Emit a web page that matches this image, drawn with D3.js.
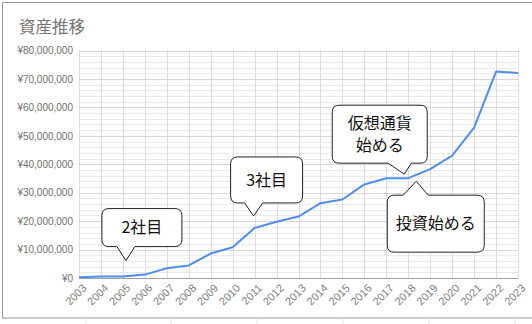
<!DOCTYPE html>
<html>
<head>
<meta charset="utf-8">
<script src="https://cdn.jsdelivr.net/npm/d3@7"></script>
<style>
  body { margin: 0; background: #fff; }
  svg { display: block; }
</style>
</head>
<body>
<svg width="532" height="324"></svg>
<script>
// values in yen
const years = ["2003","2004","2005","2006","2007","2008","2009","2010","2011","2012","2013",
  "2014","2015","2016","2017","2018","2019","2020","2021","2022","2023"];
const assets = [300000, 500000, 500000, 1200000, 3400000, 4400000, 8600000, 10800000, 17600000,
  19800000, 21600000, 26300000, 27600000, 32900000, 35100000, 35100000, 38300000, 43000000,
  52900000, 72600000, 72100000];
const yTicks = [0, 10000000, 20000000, 30000000, 40000000, 50000000, 60000000, 70000000, 80000000];

// callouts
const noteYears = ["2005", "2011", "2018", "2018"];
const noteTexts = [["2社目"], ["3社目"], ["仮想通貨", "始める"], ["投資始める"]];

function loader() {
  const svg = d3.select("svg");
  const jp = "'Noto Sans CJK JP', sans-serif";
  const num = "'Liberation Sans', Arial, sans-serif";

  // spreadsheet cells around the chart
  [86, 171, 257, 343, 429, 515].forEach(x => {
    svg.append("line").attr("x1", x).attr("x2", x).attr("y1", 319).attr("y2", 324)
      .attr("stroke", "#e2e2e2");
  });
  svg.append("rect").attr("x", 2.5).attr("y", 2.5).attr("width", 540).attr("height", 315.5)
    .attr("fill", "#fff").attr("stroke", "#9a9a9a");

  svg.append("text").attr("x", 19).attr("y", 33).text("資産推移")
    .attr("font-family", jp).attr("font-size", 16.5).attr("fill", "#757575");

  const x = d3.scalePoint().domain(years).range([79, 518]);
  const y = d3.scaleLinear().domain([0, 80000000]).range([278, 50.5]);

  // minor grid
  const g = svg.append("g");
  d3.range(0, 80000001, 2000000).forEach(v => {
    if (v % 10000000 === 0) return;
    g.append("line").attr("x1", 79).attr("x2", 518).attr("y1", Math.round(y(v)) + 0.5).attr("y2", Math.round(y(v)) + 0.5)
      .attr("stroke", "#ebebeb");
  });
  years.forEach(yr => {
    g.append("line").attr("x1", Math.round(x(yr)) + 0.5).attr("x2", Math.round(x(yr)) + 0.5)
      .attr("y1", 50).attr("y2", 278).attr("stroke", "#dddddd");
  });
  yTicks.forEach(v => {
    g.append("line").attr("x1", 79).attr("x2", 518).attr("y1", Math.round(y(v)) + 0.5).attr("y2", Math.round(y(v)) + 0.5)
      .attr("stroke", v === 0 ? "#9e9e9e" : "#d6d6d6");
  });

  // y axis labels
  const yAxis = d3.axisLeft(y).tickValues(yTicks).tickSize(0).tickPadding(6)
    .tickFormat(d => "¥" + d3.format(",")(d));
  svg.append("g").attr("transform", "translate(79,0)").call(yAxis)
    .call(a => a.select(".domain").remove())
    .selectAll("text").attr("font-family", num).attr("font-size", 10).attr("fill", "#707070");

  // x axis labels
  const xAxis = d3.axisBottom(x).tickSize(0).tickPadding(0);
  svg.append("g").attr("transform", "translate(0,280)").call(xAxis)
    .call(a => a.select(".domain").remove())
    .selectAll("text")
    .attr("font-family", num).attr("font-size", 11).attr("fill", "#808080")
    .attr("text-anchor", "end")
    .attr("transform", "translate(5,6) rotate(-45)")
    .attr("dy", "0.35em").attr("y", 0);

  // line
  const line = d3.line().x((d, i) => x(years[i])).y(d => y(d));
  svg.append("path").datum(assets).attr("d", line)
    .attr("fill", "none").attr("stroke", "#4f8ef7").attr("stroke-width", 2)
    .attr("stroke-linejoin", "round");

  // callout bubbles: box relative to tail tip
  const boxes = [
    { dx: 3,  dy: -16, l: -24, r: 56, t: -52, b: -14, tail: [-9, 9], up: false },
    { dx: -1, dy: -12, l: -23, r: 49, t: -59, b: -13, tail: [-9, 9], up: false },
    { dx: -4, dy: -4,  l: -72, r: 23, t: -69, b: -11, tail: [-16, 7], up: false },
    { dx: 8,  dy: 3,   l: -29, r: 68, t: 14,  b: 71,  tail: [-13, 12], up: true }
  ];
  const val = yr => assets[years.indexOf(yr)];
  noteYears.forEach((yr, i) => {
    const bx = boxes[i];
    const px = x(yr) + bx.dx, py = y(val(yr)) + bx.dy;
    const L = px + bx.l, R = px + bx.r, T = py + bx.t, B = py + bx.b, rr = 7;
    const p = d3.path();
    p.moveTo(L + rr, T);
    if (bx.up) { p.lineTo(px + bx.tail[0], T); p.lineTo(px, py); p.lineTo(px + bx.tail[1], T); }
    p.lineTo(R - rr, T); p.quadraticCurveTo(R, T, R, T + rr);
    p.lineTo(R, B - rr); p.quadraticCurveTo(R, B, R - rr, B);
    if (!bx.up) { p.lineTo(px + bx.tail[1], B); p.lineTo(px, py); p.lineTo(px + bx.tail[0], B); }
    p.lineTo(L + rr, B); p.quadraticCurveTo(L, B, L, B - rr);
    p.lineTo(L, T + rr); p.quadraticCurveTo(L, T, L + rr, T);
    p.closePath();
    svg.append("path").attr("d", p.toString()).attr("fill", "#fff")
      .attr("stroke", "#222").attr("stroke-width", 1);
    const lines = noteTexts[i];
    const cx = (L + R) / 2, cy = (T + B) / 2, lh = 22;
    lines.forEach((t, j) => {
      svg.append("text").attr("x", cx).attr("y", cy + (j - (lines.length - 1) / 2) * lh)
        .attr("dy", "0.36em").attr("text-anchor", "middle")
        .attr("font-family", jp).attr("font-size", 16).attr("fill", "#111").text(t);
    });
  });
}
window.addEventListener("load", loader);
</script>
</body>
</html>
